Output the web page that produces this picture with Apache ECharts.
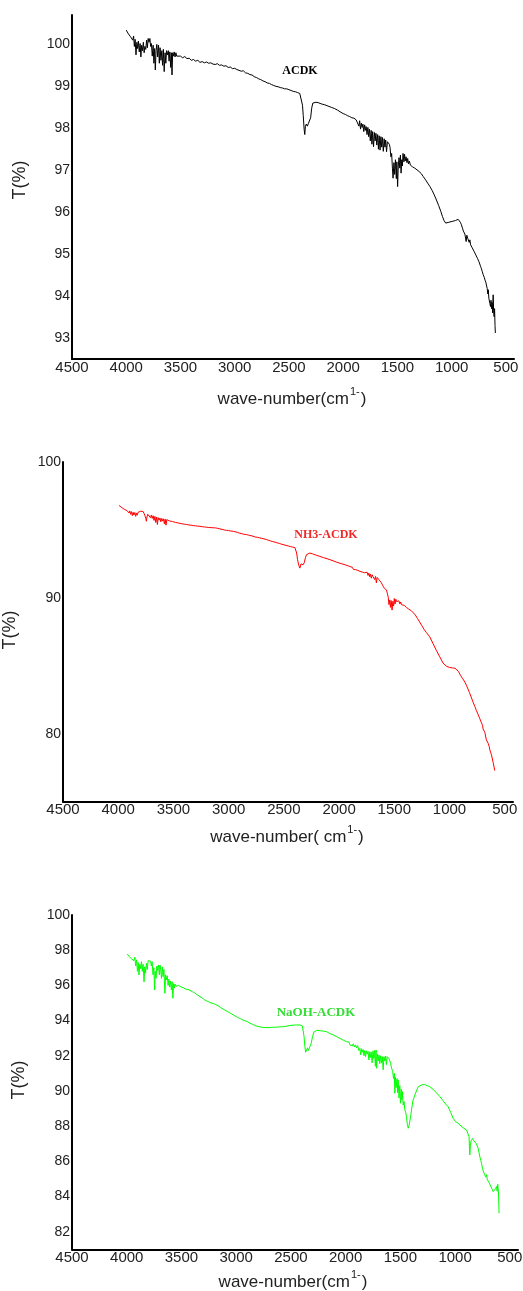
<!DOCTYPE html>
<html><head><meta charset="utf-8">
<script src="https://cdn.jsdelivr.net/npm/echarts@6/dist/echarts.min.js"></script>
<style>html,body{margin:0;padding:0;background:#fff}#c{width:523px;height:1291px}</style>
</head><body><div id="c"></div>
<script>
// ---- data: [wave-number (cm-1), T (%)] ----
const acdk = [[4000,100.34],[3990,100.30],[3980,100.25],[3970,100.28],[3960,100.18],[3950,100.22],[3940,100.10],[3932,100.20],[3925,99.95],[3918,100.12],[3910,99.75],[3902,100.05],[3895,99.90],[3888,100.08],[3880,99.82],[3872,100.02],[3865,99.70],[3858,99.98],[3850,99.85],[3842,100.05],[3835,99.80],[3828,99.95],[3820,99.88],[3812,100.10],[3805,99.92],[3798,100.14],[3790,100.05],[3782,100.14],[3775,99.95],[3768,100.02],[3760,99.72],[3752,99.98],[3745,99.55],[3738,99.90],[3732,99.39],[3725,99.85],[3718,100.00],[3710,99.70],[3702,99.98],[3695,99.55],[3688,99.92],[3680,99.62],[3672,99.85],[3665,99.50],[3658,99.88],[3650,99.35],[3642,99.80],[3635,99.55],[3628,99.85],[3620,99.75],[3612,99.85],[3605,99.60],[3598,99.82],[3590,99.45],[3584,99.80],[3578,99.27],[3572,99.80],[3565,99.72],[3558,99.82],[3550,99.70],[3542,99.80],[3535,99.72],[3528,99.76],[3520,99.74],[3500,99.72],[3480,99.68],[3460,99.71],[3440,99.66],[3420,99.67],[3400,99.62],[3380,99.64],[3360,99.60],[3340,99.62],[3320,99.57],[3300,99.59],[3280,99.56],[3260,99.58],[3240,99.55],[3220,99.56],[3200,99.53],[3180,99.52],[3160,99.54],[3140,99.50],[3120,99.51],[3100,99.48],[3080,99.49],[3060,99.45],[3040,99.46],[3020,99.42],[3000,99.43],[2980,99.40],[2960,99.38],[2940,99.36],[2920,99.37],[2900,99.32],[2880,99.31],[2860,99.28],[2840,99.27],[2820,99.23],[2800,99.21],[2780,99.18],[2760,99.16],[2740,99.13],[2720,99.11],[2700,99.08],[2680,99.07],[2660,99.04],[2640,99.02],[2620,99.00],[2600,98.99],[2580,98.97],[2560,98.96],[2540,98.94],[2520,98.94],[2500,98.92],[2480,98.90],[2460,98.88],[2440,98.87],[2420,98.85],[2400,98.83],[2385,98.80],[2375,98.55],[2368,98.30],[2360,97.98],[2354,97.85],[2348,98.05],[2340,98.10],[2330,98.05],[2320,98.12],[2310,98.10],[2300,98.25],[2290,98.48],[2280,98.60],[2270,98.63],[2250,98.62],[2230,98.61],[2200,98.58],[2170,98.56],[2140,98.53],[2110,98.50],[2080,98.47],[2050,98.43],[2020,98.38],[2000,98.35],[1980,98.33],[1960,98.30],[1940,98.28],[1920,98.25],[1900,98.24],[1880,98.20],[1870,98.16],[1862,98.22],[1855,98.05],[1848,98.18],[1840,97.98],[1832,98.12],[1825,98.02],[1818,98.10],[1810,97.92],[1802,98.08],[1795,97.95],[1788,98.04],[1780,97.85],[1772,98.02],[1765,97.80],[1758,97.98],[1750,97.70],[1742,97.95],[1735,97.62],[1728,97.92],[1720,97.56],[1712,97.90],[1705,97.70],[1698,97.88],[1690,97.60],[1682,97.85],[1675,97.50],[1668,97.82],[1660,97.48],[1652,97.80],[1645,97.55],[1638,97.78],[1630,97.45],[1622,97.75],[1615,97.55],[1608,97.72],[1600,97.44],[1592,97.68],[1584,97.66],[1575,97.62],[1568,97.55],[1560,97.32],[1553,97.40],[1546,97.05],[1540,96.81],[1532,97.18],[1525,96.90],[1518,97.25],[1510,96.80],[1505,97.20],[1498,96.61],[1492,97.10],[1485,97.30],[1478,97.05],[1472,97.36],[1466,96.93],[1460,97.25],[1454,97.10],[1448,97.40],[1440,97.20],[1434,97.38],[1428,97.22],[1420,97.32],[1412,97.18],[1405,97.28],[1398,97.15],[1390,97.22],[1380,97.12],[1370,97.15],[1360,97.08],[1350,97.10],[1340,97.05],[1325,97.02],[1300,96.97],[1280,96.92],[1262,96.85],[1240,96.77],[1220,96.69],[1200,96.61],[1180,96.52],[1160,96.41],[1140,96.29],[1120,96.16],[1100,96.02],[1085,95.90],[1070,95.80],[1055,95.74],[1040,95.73],[1025,95.76],[1010,95.74],[995,95.78],[980,95.77],[965,95.80],[950,95.82],[940,95.83],[930,95.80],[920,95.76],[910,95.70],[900,95.62],[892,95.55],[885,95.58],[878,95.48],[872,95.52],[866,95.30],[860,95.45],[852,95.38],[845,95.42],[838,95.28],[832,95.34],[825,95.22],[818,95.25],[810,95.15],[801,95.14],[792,95.06],[785,95.05],[777,94.98],[770,94.98],[762,94.90],[755,94.88],[748,94.82],[740,94.79],[732,94.70],[725,94.65],[717,94.58],[709,94.51],[700,94.45],[692,94.38],[685,94.33],[678,94.31],[672,94.18],[666,94.05],[662,94.15],[657,93.95],[652,93.98],[647,93.82],[642,93.75],[637,93.90],[632,93.70],[627,93.85],[622,93.60],[617,94.03],[613,93.65],[608,93.51],[604,93.70],[600,93.30],[597,93.12]];

const nh3Acdk = [[3993,96.80],[3985,96.76],[3975,96.68],[3960,96.60],[3950,96.62],[3940,96.50],[3930,96.55],[3920,96.42],[3910,96.45],[3902,96.25],[3895,96.40],[3888,96.15],[3880,96.35],[3872,96.05],[3865,96.30],[3858,96.10],[3850,96.28],[3842,96.00],[3835,96.25],[3828,96.08],[3820,96.30],[3812,96.22],[3805,96.35],[3795,96.38],[3785,96.30],[3775,96.36],[3765,96.20],[3758,96.05],[3750,95.85],[3745,95.64],[3740,95.95],[3732,96.15],[3724,96.05],[3716,96.18],[3708,95.90],[3700,96.10],[3692,95.85],[3684,96.05],[3676,95.70],[3668,96.00],[3660,95.55],[3652,95.95],[3645,95.40],[3638,95.90],[3630,95.72],[3622,95.88],[3614,95.60],[3606,95.85],[3598,95.65],[3590,95.82],[3582,95.45],[3575,95.80],[3567,95.35],[3560,95.76],[3552,95.62],[3545,95.72],[3535,95.66],[3525,95.70],[3510,95.62],[3500,95.64],[3480,95.55],[3460,95.52],[3440,95.48],[3420,95.45],[3400,95.42],[3380,95.40],[3360,95.37],[3340,95.35],[3320,95.32],[3300,95.30],[3280,95.28],[3260,95.27],[3240,95.24],[3220,95.22],[3200,95.20],[3180,95.18],[3160,95.17],[3140,95.16],[3120,95.15],[3100,95.12],[3080,95.08],[3060,95.04],[3040,95.00],[3020,94.97],[3000,94.95],[2980,94.92],[2958,94.90],[2940,94.86],[2920,94.82],[2900,94.76],[2880,94.72],[2860,94.68],[2840,94.66],[2820,94.62],[2808,94.61],[2780,94.54],[2760,94.48],[2740,94.46],[2720,94.42],[2700,94.38],[2680,94.34],[2657,94.29],[2640,94.24],[2620,94.19],[2600,94.14],[2580,94.10],[2560,94.05],[2540,94.00],[2520,93.95],[2506,93.92],[2480,93.86],[2460,93.82],[2440,93.77],[2420,93.74],[2400,93.70],[2391,93.67],[2384,93.30],[2376,92.81],[2365,92.40],[2355,92.19],[2345,92.50],[2335,92.42],[2325,92.44],[2315,92.60],[2305,92.95],[2295,93.18],[2280,93.28],[2265,93.30],[2240,93.24],[2210,93.15],[2174,93.05],[2140,92.96],[2100,92.86],[2054,92.73],[2020,92.62],[1980,92.52],[1940,92.42],[1903,92.31],[1880,92.25],[1870,92.10],[1860,92.22],[1850,92.08],[1840,92.18],[1830,92.02],[1820,92.12],[1810,91.95],[1800,92.05],[1790,91.90],[1780,92.00],[1770,91.85],[1760,91.95],[1752,91.80],[1745,91.88],[1738,91.65],[1730,91.82],[1722,91.55],[1715,91.75],[1708,91.45],[1700,91.70],[1692,91.55],[1685,91.62],[1678,91.35],[1670,91.58],[1662,91.10],[1655,91.50],[1648,91.40],[1640,91.35],[1631,91.33],[1620,91.15],[1610,91.00],[1600,90.85],[1590,90.70],[1580,90.62],[1571,90.59],[1562,90.30],[1555,90.05],[1548,89.50],[1541,89.85],[1535,89.30],[1528,89.80],[1520,89.10],[1513,89.75],[1506,89.40],[1500,89.95],[1493,89.55],[1486,89.90],[1480,89.73],[1472,89.85],[1465,89.60],[1458,89.78],[1450,89.55],[1442,89.70],[1435,89.50],[1427,89.62],[1420,89.61],[1410,89.45],[1400,89.40],[1390,89.30],[1380,89.25],[1370,89.18],[1360,89.12],[1345,89.05],[1330,88.99],[1310,88.75],[1290,88.48],[1270,88.22],[1250,87.95],[1230,87.68],[1210,87.45],[1179,87.14],[1150,86.65],[1120,86.15],[1088,85.66],[1058,85.20],[1028,84.97],[1000,84.88],[970,84.84],[950,84.82],[937,84.78],[920,84.60],[900,84.30],[880,84.05],[860,83.80],[847,83.57],[820,83.05],[790,82.40],[770,82.00],[757,81.72],[740,81.40],[725,81.10],[710,80.80],[700,80.60],[696,80.35],[690,80.45],[680,80.10],[666,79.55],[650,79.30],[640,79.05],[636,78.85],[630,78.95],[620,78.45],[605,77.90],[590,77.29]];

const naohAcdk = [[3995,97.78],[3985,97.70],[3975,97.62],[3965,97.66],[3955,97.50],[3945,97.55],[3935,97.40],[3925,97.60],[3918,97.10],[3910,97.45],[3902,96.80],[3895,97.30],[3888,96.59],[3880,97.20],[3872,96.95],[3865,97.35],[3858,96.80],[3850,97.20],[3842,96.20],[3835,97.06],[3828,96.70],[3820,97.25],[3812,96.90],[3805,97.40],[3798,97.30],[3790,97.44],[3782,97.38],[3775,97.10],[3768,97.35],[3760,96.60],[3752,97.00],[3745,95.74],[3740,96.80],[3732,96.40],[3725,97.10],[3718,96.85],[3710,97.16],[3702,96.60],[3696,97.16],[3690,96.90],[3682,96.40],[3675,97.05],[3668,96.50],[3660,96.90],[3651,95.55],[3645,96.60],[3638,96.31],[3630,96.55],[3622,96.00],[3615,96.35],[3608,95.90],[3600,96.25],[3592,95.75],[3585,96.20],[3578,95.27],[3572,96.10],[3565,95.85],[3558,96.08],[3550,95.95],[3542,96.05],[3535,95.88],[3528,96.00],[3520,95.92],[3514,95.97],[3500,95.90],[3480,95.86],[3460,95.78],[3440,95.77],[3422,95.74],[3400,95.64],[3380,95.58],[3360,95.48],[3340,95.40],[3331,95.36],[3310,95.28],[3290,95.18],[3270,95.12],[3250,95.06],[3230,95.00],[3210,94.97],[3190,94.92],[3179,94.89],[3160,94.82],[3140,94.74],[3120,94.66],[3100,94.58],[3080,94.52],[3060,94.44],[3040,94.37],[3027,94.32],[3000,94.22],[2980,94.16],[2960,94.10],[2940,94.04],[2920,93.99],[2900,93.95],[2874,93.85],[2850,93.78],[2820,93.70],[2790,93.65],[2760,93.61],[2730,93.60],[2700,93.60],[2670,93.62],[2640,93.62],[2610,93.64],[2570,93.65],[2540,93.68],[2510,93.72],[2480,93.74],[2450,93.75],[2418,93.75],[2395,93.70],[2388,93.65],[2380,93.10],[2372,92.52],[2365,92.20],[2357,92.14],[2348,92.45],[2340,92.30],[2327,92.33],[2315,92.70],[2302,93.09],[2290,93.35],[2281,93.43],[2260,93.45],[2230,93.42],[2200,93.40],[2174,93.37],[2144,93.26],[2114,93.18],[2080,93.08],[2050,92.98],[2020,92.88],[1992,92.80],[1980,92.70],[1970,92.78],[1960,92.62],[1950,92.72],[1940,92.55],[1930,92.68],[1920,92.50],[1910,92.62],[1900,92.45],[1890,92.58],[1880,92.30],[1870,92.42],[1862,92.05],[1855,92.40],[1848,92.20],[1840,92.35],[1832,92.00],[1825,92.30],[1818,91.95],[1810,92.28],[1802,92.10],[1795,92.25],[1787,91.76],[1779,92.23],[1772,91.90],[1765,92.20],[1758,91.60],[1750,92.28],[1742,91.85],[1735,92.30],[1728,91.40],[1722,92.33],[1717,91.29],[1710,92.10],[1702,91.70],[1695,92.05],[1688,91.55],[1680,92.00],[1672,91.60],[1665,91.95],[1657,91.20],[1650,91.95],[1642,91.70],[1635,91.98],[1627,91.50],[1620,91.95],[1611,91.95],[1600,91.80],[1590,91.57],[1580,91.30],[1570,91.10],[1562,90.70],[1555,91.00],[1550,89.87],[1545,90.80],[1538,90.20],[1530,90.70],[1525,89.90],[1520,90.63],[1512,89.60],[1505,90.30],[1499,89.30],[1492,90.10],[1486,89.50],[1481,89.96],[1474,89.20],[1466,89.40],[1459,88.92],[1452,88.80],[1444,88.54],[1436,88.10],[1428,87.88],[1420,88.05],[1413,88.07],[1405,88.60],[1398,88.92],[1385,89.45],[1367,89.77],[1350,90.05],[1337,90.24],[1320,90.32],[1300,90.36],[1276,90.36],[1255,90.30],[1231,90.24],[1200,90.08],[1170,89.90],[1139,89.68],[1110,89.45],[1085,89.25],[1063,89.10],[1040,88.78],[1017,88.44],[995,88.25],[975,88.18],[956,88.07],[940,88.00],[925,87.90],[910,87.83],[895,87.78],[880,87.69],[872,87.40],[868,86.70],[865,86.36],[860,86.90],[855,87.15],[849,87.22],[840,87.30],[830,87.18],[819,87.22],[805,87.00],[789,86.74],[775,86.30],[765,86.05],[758,85.89],[750,85.60],[743,85.45],[736,85.55],[728,85.23],[720,85.10],[712,85.25],[705,84.95],[698,85.04],[690,84.80],[682,84.85],[675,84.60],[667,84.56],[660,84.40],[652,84.28],[645,84.35],[637,84.19],[630,84.45],[622,84.57],[615,84.30],[610,84.70],[607,84.66],[603,84.20],[598,83.05]];

const xTickLabels = [4500,4000,3500,3000,2500,2000,1500,1000,500];
const yTicksAcdk = [93,94,95,96,97,98,99,100];
const yTicksNh3 = [80,90,100];
const yTicksNaoh = [82,84,86,88,90,92,94,96,98,100];

// ---- chart ----
const FONT = "'Liberation Sans', Arial, sans-serif";
const SERIF = "'Liberation Serif', 'Times New Roman', serif";
const showIf = (ticks) => (v) => ticks.some(t => Math.abs(t - v) < 1e-6) ? String(Math.round(v)) : '';

function xAxis(gridIndex) {
  return {
    type: 'value', gridIndex, inverse: true, min: 425, max: 4500, interval: 25,
    axisLine: { show: true, onZero: false, lineStyle: { color: '#000', width: 2 } },
    axisTick: { show: false }, splitLine: { show: false },
    axisLabel: { formatter: showIf(xTickLabels), color: '#222', fontSize: 15, fontFamily: FONT, margin: 1, showMinLabel: true, showMaxLabel: true }
  };
}
function yAxis(gridIndex, min, max, interval, ticks) {
  return {
    type: 'value', gridIndex, min, max, interval,
    axisLine: { show: true, onZero: false, lineStyle: { color: '#000', width: 2 } },
    axisTick: { show: false }, splitLine: { show: false },
    axisLabel: { formatter: showIf(ticks), color: '#222', fontSize: 14, fontFamily: FONT, margin: 2, showMinLabel: true, showMaxLabel: true }
  };
}
function line(data, color, idx) {
  return { type: 'line', data, xAxisIndex: idx, yAxisIndex: idx, showSymbol: false, symbol: 'none',
    lineStyle: { color, width: 1 }, silent: true };
}
function yTitle(x, y) {
  return { type: 'text', x, y, rotation: Math.PI / 2,
    style: { text: 'T(%)', fontSize: 18, fontFamily: FONT, fill: '#222', textAlign: 'center', textVerticalAlign: 'middle' } };
}
function xTitle(x, y, txt) {
  return { type: 'text', x, y,
    style: { text: '{a|' + txt + '}{s|1-}{a|)}', fill: '#222', textAlign: 'center', textVerticalAlign: 'middle',
      rich: { a: { fontSize: 17, fontFamily: FONT, fill: '#222', lineHeight: 22, verticalAlign: 'bottom' },
              s: { fontSize: 11, fontFamily: FONT, fill: '#222', lineHeight: 22, verticalAlign: 'top', padding: [0, 1, 0, 1] } } } };
}
function note(x, y, txt, color, size) {
  return { type: 'text', x, y,
    style: { text: txt, fontSize: size, fontWeight: 'bold', fontFamily: SERIF, fill: color, textAlign: 'center', textVerticalAlign: 'middle' } };
}

const chart = echarts.init(document.getElementById('c'), null, { renderer: 'canvas' });
chart.setOption({
  animation: false,
  backgroundColor: '#fff',
  grid: [
    { left: 72, top: 15, width: 442, height: 344, containLabel: false, outerBoundsMode: 'none' },
    { left: 63, top: 462, width: 450, height: 339.7, containLabel: false, outerBoundsMode: 'none' },
    { left: 72, top: 915, width: 446, height: 334.3, containLabel: false, outerBoundsMode: 'none' }
  ],
  xAxis: [xAxis(0), xAxis(1), xAxis(2)],
  yAxis: [
    yAxis(0, 92.5, 100.7, 0.5, yTicksAcdk),
    yAxis(1, 75, 100, 5, yTicksNh3),
    yAxis(2, 81, 100, 1, yTicksNaoh)
  ],
  series: [
    line(acdk, '#000000', 0),
    line(nh3Acdk, '#ff0000', 1),
    line(naohAcdk, '#00ff00', 2)
  ],
  graphic: [
    yTitle(20, 180), yTitle(10, 630), yTitle(19, 1080),
    xTitle(292, 397, 'wave-number(cm'), xTitle(287, 835, 'wave-number( cm'), xTitle(293, 1280, 'wave-number(cm'),
    note(300, 71, 'ACDK', '#000', 12),
    note(326, 535, 'NH3-ACDK', '#f02828', 12),
    note(316, 1013, 'NaOH-ACDK', '#33dd33', 13)
  ]
});
</script></body></html>
